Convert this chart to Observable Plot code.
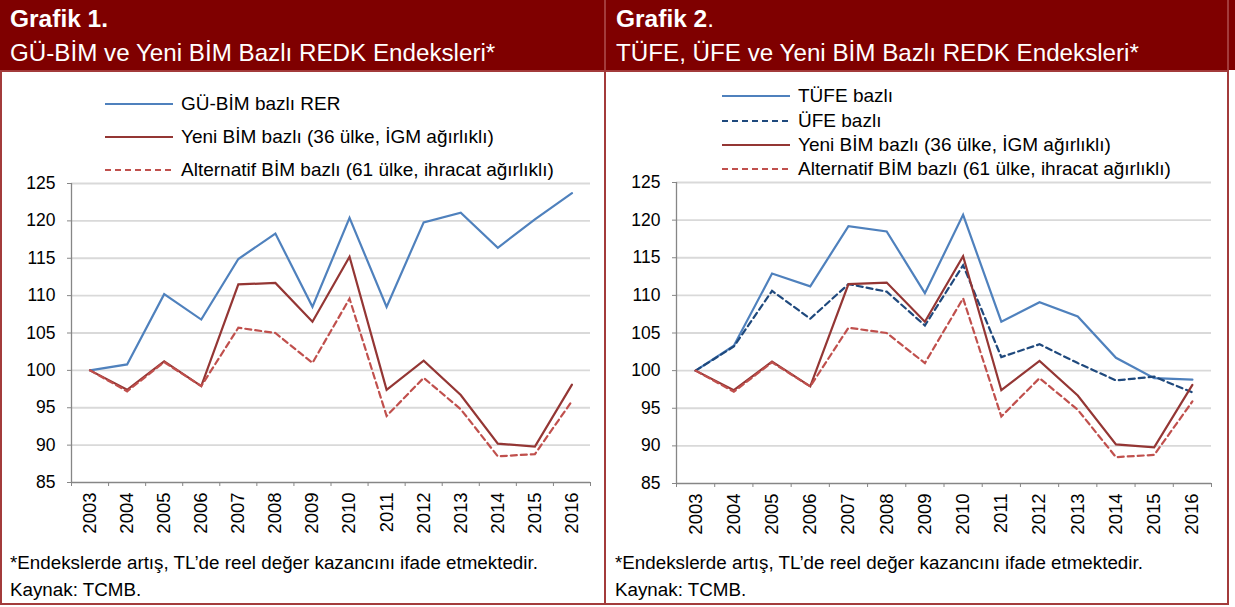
<!DOCTYPE html>
<html><head><meta charset="utf-8">
<script src="https://cdn.jsdelivr.net/npm/d3@7"></script>
<script src="https://cdn.jsdelivr.net/npm/@observablehq/plot@0.6"></script>
<style>
html,body{margin:0;padding:0;background:#fff;}
body{font-family:"Liberation Sans",Arial,sans-serif;color:#000;}
#wrap{position:relative;width:1235px;height:607px;overflow:hidden;background:#fff;}
.hdr{position:absolute;top:0;height:70px;background:#7F0000;}
.t1{position:absolute;left:10px;top:7px;font-size:24.5px;line-height:24.5px;font-weight:bold;white-space:nowrap;color:#fff;}
.t2{position:absolute;left:10px;top:41px;font-size:24.2px;line-height:24.2px;white-space:nowrap;color:#fff;}
.vline{position:absolute;background:#A33B3B;}
.leg{position:absolute;font-size:19px;white-space:nowrap;}
.leg svg{position:absolute;left:0;top:0;}
.leg span{position:absolute;top:0;line-height:22px;}
.foot{position:absolute;font-size:18.8px;white-space:nowrap;line-height:22px;}
.plot{position:absolute;}
</style></head>
<body><div id="wrap"></div>
<script>
const years = [2003,2004,2005,2006,2007,2008,2009,2010,2011,2012,2013,2014,2015,2016];
const guBim  = [100,100.8,110.2,106.8,114.9,118.3,108.5,120.4,108.5,119.8,121.1,116.4,120.2,123.7];
const yeniBim= [100,97.4,101.2,97.9,111.5,111.7,106.5,115.2,97.4,101.3,96.7,90.2,89.8,98.1];
const altBim = [100,97.2,101.1,97.9,105.7,105.0,101.0,109.6,93.9,99.0,94.8,88.5,88.8,95.9];
const tufe   = [100,103.3,112.9,111.2,119.2,118.5,110.3,120.7,106.5,109.1,107.2,101.7,99.0,98.8];
const ufe    = [100,103.2,110.6,106.9,111.5,110.5,106.0,114.0,101.8,103.5,101.0,98.7,99.2,97.1];
const yTicks = [85,90,95,100,105,110,115,120,125];

const S = {
  gu:   {label:"GÜ-BİM bazlı RER", color:"#4F81BD", dash:null, width:2.2},
  tufe: {label:"TÜFE bazlı", color:"#4F81BD", dash:null, width:2.2},
  ufe:  {label:"ÜFE bazlı", color:"#1F497D", dash:"6,4", width:2.2},
  yeni: {label:"Yeni BİM bazlı (36 ülke, İGM ağırlıklı)", color:"#943634", dash:null, width:2.2},
  alt:  {label:"Alternatif BİM bazlı (61 ülke, ihracat ağırlıklı)", color:"#C0504D", dash:"6,4", width:2.2}
};

const wrap = document.getElementById("wrap");
function el(tag, cls, css, html){const e=document.createElement(tag); if(cls)e.className=cls; if(css)Object.assign(e.style,css); if(html!=null)e.innerHTML=html; wrap.appendChild(e); return e;}

function rows(vals){ return years.map((y,i)=>({year:y, v:vals[i]})); }

function makePlot(series, box){
  const bounds = years.map(y=>y-0.5).concat([years[years.length-1]+0.5]);
  const marks = [
    Plot.gridY(yTicks.filter(t=>t>yTicks[0]), {stroke:"#D9D9D9", strokeOpacity:1, strokeWidth:1.8}),
    Plot.ruleY([yTicks[0]], {stroke:"#868686", strokeWidth:1.3}),
    Plot.ruleX([bounds[0]], {stroke:"#868686", strokeWidth:1.3}),
    Plot.axisY({ticks:yTicks, tickSize:4, tickPadding:12, fontSize:17.5, stroke:"#868686", fill:"#000", label:null, tickFormat:d=>String(d)}),
    Plot.axisX({ticks:bounds, tickSize:4, tickFormat:()=>"", stroke:"#868686", label:null}),
    Plot.axisX({ticks:years, tickSize:0, tickPadding:10, tickRotate:-90, fontSize:18.5, fill:"#000", label:null, tickFormat:d=>String(d)})
  ];
  for (const [key, vals] of series){
    const s = S[key];
    marks.push(Plot.line(rows(vals), {x:"year", y:"v", stroke:s.color, strokeWidth:s.width, strokeDasharray:s.dash||undefined, strokeLinejoin:"miter", strokeMiterlimit:4}));
  }
  const svg = Plot.plot({
    width: box.width, height: box.height,
    marginLeft: box.ml, marginRight: box.mr, marginTop: box.mt, marginBottom: box.mb,
    x:{type:"linear", domain:[bounds[0], bounds[bounds.length-1]], axis:null},
    y:{domain:[yTicks[0], yTicks[yTicks.length-1]], axis:null},
    style:{fontFamily:"'Liberation Sans', Arial, sans-serif", background:"transparent", overflow:"visible", color:"#000"},
    marks
  });
  svg.classList.add("plot");
  Object.assign(svg.style, {left:box.left+"px", top:box.top+"px", position:"absolute"});
  wrap.appendChild(svg);
}

function legend(items, x, textX, ys){
  items.forEach((key,i)=>{
    const s = S[key];
    const d = el("div","leg",{left:x+"px", top:(ys[i]-11)+"px", width:"480px", height:"22px"});
    d.innerHTML = `<svg width="70" height="22"><line x1="0" x2="68" y1="11" y2="11" stroke="${s.color}" stroke-width="2.2" ${s.dash?`stroke-dasharray="${s.dash}"`:""}/></svg><span style="left:${textX-x}px">${s.label}</span>`;
  });
}

// headers
el("div","hdr",{left:"0px", width:"605px"});
el("div","hdr",{left:"605px", width:"630px"});
el("div","t1",{},"Grafik 1.");
el("div","t2",{},"GÜ-BİM ve Yeni BİM Bazlı REDK Endeksleri*");
el("div","t1",{left:"616px"},"Grafik 2<span style='font-weight:normal'>.</span>");
el("div","t2",{left:"616px"},"TÜFE, ÜFE ve Yeni BİM Bazlı REDK Endeksleri*");

// borders
el("div","vline",{left:"0px", top:"70px", width:"1229px", height:"2px"});
el("div","vline",{left:"0px", top:"70px", width:"2px", height:"535px"});
el("div","vline",{left:"604px", top:"0px", width:"2px", height:"605px"});
el("div","vline",{left:"1227px", top:"0px", width:"2px", height:"605px"});
el("div","vline",{left:"0px", top:"603px", width:"1229px", height:"2px"});

legend(["gu","yeni","alt"], 105, 181, [104,137,170]);
legend(["tufe","ufe","yeni","alt"], 722, 798, [96,121,145,169]);

makePlot([["gu",guBim],["yeni",yeniBim],["alt",altBim]], {left:2, top:72, width:602, height:470, ml:69, mr:14, mt:111, mb:60});
makePlot([["tufe",tufe],["ufe",ufe],["yeni",yeniBim],["alt",altBim]], {left:606, top:72, width:621, height:470, ml:70, mr:16, mt:110, mb:59});

el("div","foot",{left:"10px", top:"552px"},"*Endekslerde artış, TL’de reel değer kazancını ifade etmektedir.");
el("div","foot",{left:"10px", top:"579px"},"Kaynak: TCMB.");
el("div","foot",{left:"615px", top:"552px"},"*Endekslerde artış, TL’de reel değer kazancını ifade etmektedir.");
el("div","foot",{left:"615px", top:"579px"},"Kaynak: TCMB.");
</script>
</body></html>
